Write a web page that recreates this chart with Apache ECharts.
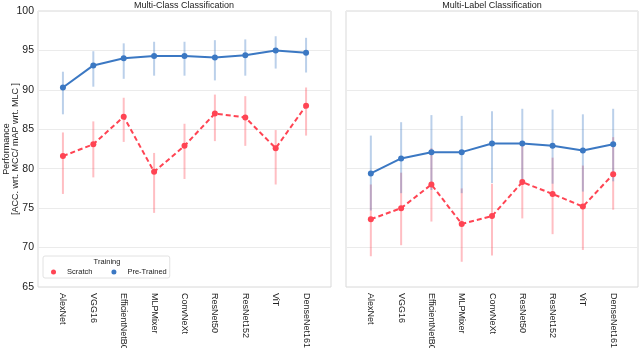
<!DOCTYPE html>
<html>
<head>
<meta charset="utf-8">
<script src="https://cdn.jsdelivr.net/npm/echarts@6/dist/echarts.min.js"></script>
<style>
html, body { margin: 0; padding: 0; background: #fff; }
#chart { width: 640px; height: 348px; }
</style>
</head>
<body>
<div id="chart"></div>
<script>
// models on the x axis
const models = ['AlexNet', 'VGG16', 'EfficientNetB0', 'MLPMixer', 'ConvNeXt', 'ResNet50', 'ResNet152', 'ViT', 'DenseNet161'];

// Multi-Class Classification
const mccScratch = [81.6, 83.1, 86.6, 79.6, 82.9, 87.0, 86.5, 82.6, 88.0];
const mccScratchLow = [76.8, 78.9, 83.4, 74.4, 78.7, 83.5, 82.9, 78.0, 84.2];
const mccScratchHigh = [84.6, 86.0, 89.0, 82.0, 85.7, 89.4, 89.2, 84.9, 90.3];
const mccPre = [90.3, 93.1, 94.0, 94.3, 94.3, 94.1, 94.4, 95.0, 94.7];
const mccPreLow = [86.9, 90.4, 91.4, 91.8, 91.8, 91.2, 91.8, 92.7, 92.2];
const mccPreHigh = [92.3, 94.9, 95.9, 96.1, 96.1, 96.3, 96.4, 96.8, 96.6];

// Multi-Label Classification
const mlcScratch = [73.6, 75.0, 78.0, 73.0, 74.0, 78.3, 76.8, 75.2, 79.3];
const mlcScratchLow = [68.9, 70.3, 73.3, 68.2, 69.0, 73.7, 71.7, 69.7, 74.8];
const mlcScratchHigh = [78.0, 79.5, 82.6, 77.5, 78.1, 83.1, 81.4, 80.4, 84.0];
const mlcPre = [79.4, 81.3, 82.1, 82.1, 83.2, 83.2, 82.9, 82.3, 83.1];
const mlcPreLow = [74.7, 76.9, 77.3, 76.9, 78.2, 78.3, 78.1, 77.1, 78.4];
const mlcPreHigh = [84.2, 85.9, 86.8, 86.7, 87.3, 87.6, 87.5, 86.9, 87.6];

const yTicks = [65, 70, 75, 80, 85, 90, 95, 100];

const RED = '#ff4453';
const BLUE = '#3b78c3';
const FONT = 'Liberation Sans';

let chart = echarts.init(document.getElementById('chart'));

function errData(low, high) {
	return low.map((l, i) => [i, l, high[i]]);
}

function errSeries(idx, low, high, color) {
	return {
		type: 'custom',
		xAxisIndex: idx,
		yAxisIndex: idx,
		silent: true,
		z: 1,
		data: errData(low, high),
		encode: { x: 0, y: [1, 2] },
		renderItem(params, api) {
			let a = api.coord([api.value(0), api.value(1)]);
			let b = api.coord([api.value(0), api.value(2)]);
			return {
				type: 'line',
				shape: { x1: a[0], y1: a[1], x2: b[0], y2: b[1] },
				style: { stroke: color, lineWidth: 2 }
			};
		}
	};
}

function lineSeries(idx, name, values, color, dashed) {
	return {
		type: 'line',
		name: name,
		xAxisIndex: idx,
		yAxisIndex: idx,
		z: 3,
		data: values.map((v, i) => [i, v]),
		symbol: 'circle',
		symbolSize: 6,
		itemStyle: { color: color },
		lineStyle: { color: color, width: 2, type: dashed ? [5, 3] : 'solid' }
	};
}

function xAxis(idx) {
	return {
		type: 'value',
		gridIndex: idx,
		min: -0.82,
		max: 8.82,
		axisLine: { show: false },
		axisTick: { show: false },
		splitLine: { show: false },
		axisLabel: {
			customValues: models.map((m, i) => i),
			formatter: v => models[Math.round(v)],
			rotate: -90,
			margin: 6,
			fontFamily: FONT,
			fontSize: 9,
			color: '#222'
		}
	};
}

function yAxis(idx, showLabels, name) {
	return {
		type: 'value',
		gridIndex: idx,
		min: 65,
		max: 100,
		interval: 5,
		name: name,
		nameLocation: 'middle',
		nameGap: 18,
		nameMoveOverlap: false,
		nameTextStyle: { fontFamily: FONT, fontSize: 9, color: '#222', lineHeight: 9 },
		axisLine: { show: false },
		axisTick: { show: false },
		splitLine: { lineStyle: { color: '#ebebeb', width: 1 } },
		axisLabel: {
			show: showLabels,
			customValues: yTicks,
			margin: 4,
			fontFamily: FONT,
			fontSize: 10.5,
			color: '#222'
		}
	};
}

let option = {
	backgroundColor: '#fff',
	animation: false,
	title: [{
		text: 'Multi-Class Classification',
		left: 184,
		top: 1,
		textAlign: 'center',
		padding: 0,
		textStyle: { fontFamily: FONT, fontSize: 9, fontWeight: 'normal', color: '#222' }
	}, {
		text: 'Multi-Label Classification',
		left: 492,
		top: 1,
		textAlign: 'center',
		padding: 0,
		textStyle: { fontFamily: FONT, fontSize: 9, fontWeight: 'normal', color: '#222' }
	}, {
		text: 'Training',
		left: 107,
		top: 258,
		textAlign: 'center',
		padding: 0,
		z: 10,
		textStyle: { fontFamily: FONT, fontSize: 7.5, fontWeight: 'normal', color: '#222' }
	}],
	legend: {
		left: 43,
		top: 256,
		orient: 'horizontal',
		padding: [12, 3, 2, 8],
		itemGap: 19,
		itemWidth: 5,
		itemHeight: 5,
		icon: 'circle',
		borderColor: '#e2e2e2',
		borderWidth: 1,
		borderRadius: 2,
		backgroundColor: 'rgba(255,255,255,0.8)',
		textStyle: { fontFamily: FONT, fontSize: 7.5, color: '#222', padding: [0, 0, 0, 6] },
		data: ['Scratch', 'Pre-Trained']
	},
	grid: [{
		left: 38, top: 11, width: 293, height: 276,
		outerBoundsMode: 'none',
		show: true, borderColor: '#d9d9d9', borderWidth: 1, backgroundColor: '#fff'
	}, {
		left: 346, top: 11, width: 292, height: 276,
		outerBoundsMode: 'none',
		show: true, borderColor: '#d9d9d9', borderWidth: 1, backgroundColor: '#fff'
	}],
	xAxis: [xAxis(0), xAxis(1)],
	yAxis: [
		yAxis(0, true, 'Performance\n[ACC. wrt. MCC/ mAP wrt. MLC ]'),
		yAxis(1, false, '')
	],
	series: [
		errSeries(0, mccScratchLow, mccScratchHigh, 'rgba(255,68,83,0.35)'),
		errSeries(0, mccPreLow, mccPreHigh, 'rgba(59,120,195,0.35)'),
		lineSeries(0, 'Scratch', mccScratch, RED, true),
		lineSeries(0, 'Pre-Trained', mccPre, BLUE, false),
		errSeries(1, mlcScratchLow, mlcScratchHigh, 'rgba(255,68,83,0.35)'),
		errSeries(1, mlcPreLow, mlcPreHigh, 'rgba(59,120,195,0.35)'),
		lineSeries(1, 'Scratch', mlcScratch, RED, true),
		lineSeries(1, 'Pre-Trained', mlcPre, BLUE, false)
	]
};

chart.setOption(option);
</script>
</body>
</html>
